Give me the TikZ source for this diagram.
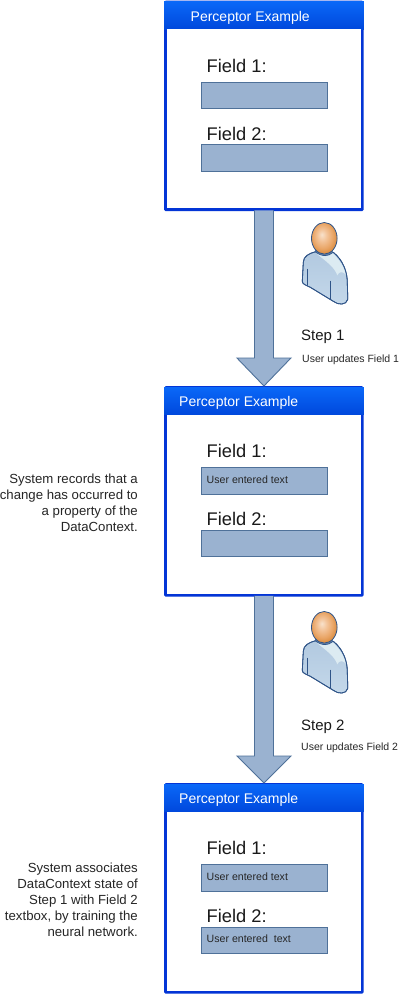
\documentclass[tikz,border=0pt]{standalone}
\usepackage{fontspec}
\setmainfont{Liberation Sans}
\usetikzlibrary{calc}
\definecolor{winblue}{HTML}{0335D6}
\definecolor{titletop}{HTML}{0A68F8}
\definecolor{titlebot}{HTML}{0048DC}
\definecolor{boxfill}{HTML}{9AB2D0}
\definecolor{boxedge}{HTML}{4F7199}
\definecolor{bodyedge}{HTML}{2F5488}
\definecolor{headA}{HTML}{F8E2CC}
\definecolor{headB}{HTML}{F3C49A}
\definecolor{headC}{HTML}{E9A566}
\definecolor{headD}{HTML}{D98A3C}
\definecolor{bodytop}{HTML}{B2C9E0}
\definecolor{bodybot}{HTML}{C4D8EA}
\definecolor{bodylight}{HTML}{DCEBF2}
\pgfdeclareradialshading{headball}{\pgfpoint{-5bp}{6bp}}{
  color(0bp)=(headA);
  color(9bp)=(headB);
  color(20bp)=(headC);
  color(28bp)=(headD);
  color(50bp)=(headD)}
\tikzset{
  x=1pt,y=-1pt,
  winframe/.style={fill=winblue,draw=none,rounded corners=1.5pt,minimum width=199.5pt,minimum height=#1,inner sep=0,anchor=north west},
  winclient/.style={fill=white,draw=none},
  wintitle/.style={top color=titletop,bottom color=titlebot,draw=none},
  titletext/.style={anchor=base west,inner sep=0,text=white,font=\fontsize{14}{16}\selectfont},
  fieldlabel/.style={anchor=base west,inner sep=0,text=black!90,font=\fontsize{18.3}{20}\selectfont},
  fieldbox/.style={fill=boxfill,draw=boxedge,line width=0.9pt,minimum width=125.5pt,minimum height=26.5pt,inner sep=0,anchor=north west},
  entrytext/.style={anchor=base west,inner sep=0,text=black!85,font=\fontsize{10.6}{12}\selectfont},
  flowarrow/.style={fill=boxfill,draw=boxedge,line width=0.9pt},
  steptext/.style={anchor=base west,inner sep=0,text=black!90,font=\fontsize{15}{17}\selectfont},
  subtext/.style={anchor=base west,inner sep=0,text=black!85,font=\fontsize{10.5}{12}\selectfont},
  sidetext/.style={anchor=north east,inner sep=0,align=right,text=black!85,font=\fontsize{13.2}{16}\selectfont},
  bodyline/.style={draw=bodyedge,line width=0.8pt,line join=round,line cap=round}
}
% name, top y, title x
\newcommand{\perceptorwindow}[3]{%
  \node[winframe=210.5pt] (#1) at (164,#2) {};
  \fill[wintitle] ($(#1.north west)+(0,1)$) rectangle ($(#1.north east)+(0,28.5)$);
  \fill[winclient] ($(#1.north west)+(2.8,28.5)$) rectangle ($(#1.south east)+(-3.2,-3.2)$);
  \node[titletext] (#1title) at ($(#1.north west)+(#3,20.5)$) {Perceptor Example};
}
\newcommand{\personfig}[2]{%
  \begin{scope}[shift={(#1,#2)}]
    \fill[bodyedge!50!boxfill] (-9,10) rectangle (9,19);
    \path[bodyline,top color=bodytop,bottom color=bodybot]
      (-9,13.5) .. controls (-15,15) and (-21,18) .. (-21,24)
      -- (-22,43) .. controls (-22,46) and (-18,47) .. (-14,49)
      -- (9,63) .. controls (14,67) and (22,67) .. (23.5,61)
      -- (23,44) .. controls (23,34) and (19,22) .. (9,14)
      .. controls (4,19) and (-5,18) .. (-9,13.5) -- cycle;
    \fill[bodylight]
      (-8,15) .. controls (-2,19) and (4,19) .. (8.5,15)
      .. controls (15,21) and (20,29) .. (21.5,36)
      .. controls (18,33) and (15,33) .. (13,37)
      .. controls (10,28) and (0,22) .. (-8,15) -- cycle;
    \path[bodyline]
      (-9,13.5) .. controls (-15,15) and (-21,18) .. (-21,24)
      -- (-22,43) .. controls (-22,46) and (-18,47) .. (-14,49)
      -- (9,63) .. controls (14,67) and (22,67) .. (23.5,61)
      -- (23,44) .. controls (23,34) and (19,22) .. (9,14);
    \draw[bodyline] (-16.5,31) -- (-16.5,47);
    \draw[bodyline] (5.7,43) -- (5.7,61);
    \path[bodyline,shading=headball] (0,0) ellipse [x radius=12.8,y radius=15.8];
  \end{scope}
}
\begin{document}
\begin{tikzpicture}
\useasboundingbox (0,0) rectangle (400,994);
\fill[white] (0,0) rectangle (400,994);

\perceptorwindow{winA}{0.5}{26.5}
\perceptorwindow{winB}{386}{15}
\perceptorwindow{winC}{783}{15}

% arrows
\draw[flowarrow] ($(winA.south)+(-9.5,-1)$) -- ($(winB.north)+(-9.5,-28)$) -- ($(winB.north)+(-27,-28)$) -- (winB.north) -- ($(winB.north)+(27,-28)$) -- ($(winB.north)+(9.5,-28)$) -- ($(winA.south)+(9.5,-1)$);
\draw[flowarrow] ($(winB.south)+(-9.5,-1)$) -- ($(winC.north)+(-9.5,-27)$) -- ($(winC.north)+(-27,-27)$) -- (winC.north) -- ($(winC.north)+(27,-27)$) -- ($(winC.north)+(9.5,-27)$) -- ($(winB.south)+(9.5,-1)$);

% window A
\node[fieldlabel] (a1l) at (206.5,72) {Field 1:};
\node[fieldbox] (a1) at (201,81.7) {};
\node[fieldlabel] (a2l) at (206.5,140) {Field 2:};
\node[fieldbox] (a2) at (201,144.3) {};

% window B
\node[fieldlabel] (b1l) at (206.5,457) {Field 1:};
\node[fieldbox] (b1) at (201,467) {};
\node[entrytext] (b1t) at (206.5,483.5) {User entered text};
\node[fieldlabel] (b2l) at (206.5,525) {Field 2:};
\node[fieldbox] (b2) at (201,529.8) {};

% window C
\node[fieldlabel] (c1l) at (206.5,854) {Field 1:};
\node[fieldbox] (c1) at (201,864) {};
\node[entrytext] (c1t) at (206.5,880) {User entered text};
\node[fieldlabel] (c2l) at (206.5,922) {Field 2:};
\node[fieldbox] (c2) at (201,926.5) {};
\node[entrytext] (c2t) at (206.5,942.5) {User entered\ \ text};

% people and steps
\personfig{324.3}{238.3}
\node[steptext] (s1) at (301,340.7) {Step 1};
\node[subtext] (s1s) at (302,362) {User updates Field 1};
\personfig{324.3}{627.3}
\node[steptext] (s2) at (301,730) {Step 2};
\node[subtext] (s2s) at (301,750) {User updates Field 2};

% side notes
\node[sidetext] (noteB) at (138,474) {System records that a\\change has occurred to\\a property of the\\DataContext.};
\node[sidetext] (noteC) at (138,863) {System associates\\DataContext state of\\Step 1 with Field 2\\textbox, by training the\\neural network.};
\end{tikzpicture}
\end{document}
